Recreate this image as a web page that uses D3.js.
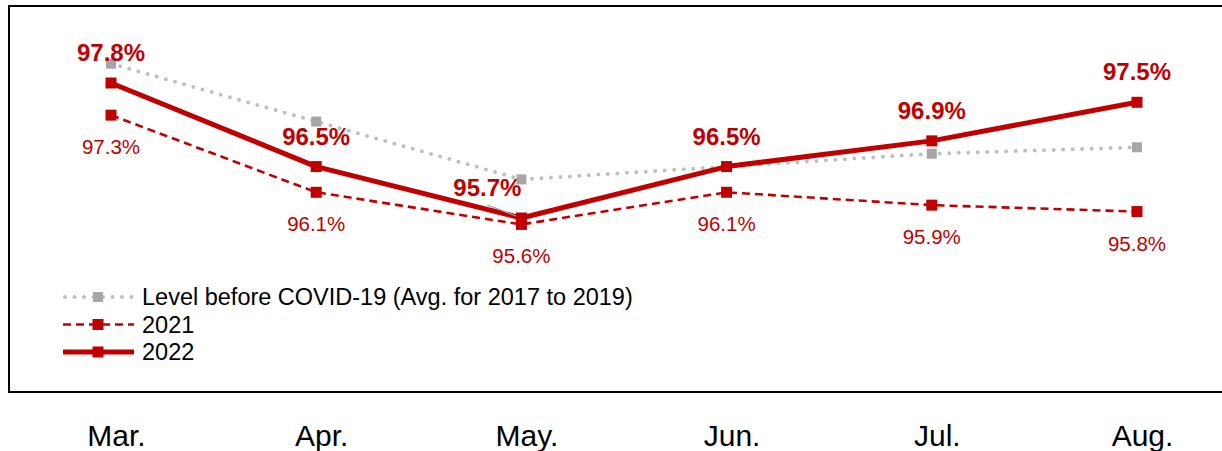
<!DOCTYPE html>
<html>
<head>
<meta charset="utf-8">
<script src="https://cdn.jsdelivr.net/npm/d3@7"></script>
<style>
  html, body { margin: 0; padding: 0; background: #fff; }
  svg { display: block; font-family: "Liberation Sans", Arial, sans-serif; }
</style>
</head>
<body>
<svg id="chart" width="1222" height="451"></svg>
<script>
// Monthly rates, March to August
const months = ["Mar.", "Apr.", "May.", "Jun.", "Jul.", "Aug."];
const preCovid = [98.1, 97.2, 96.3, 96.5, 96.7, 96.8];
const rates2021 = [97.3, 96.1, 95.6, 96.1, 95.9, 95.8];
const rates2022 = [97.8, 96.5, 95.7, 96.5, 96.9, 97.5];
const seriesNames = ["Level before COVID-19 (Avg. for 2017 to 2019)", "2021", "2022"];

const RED = "#c00000";
const GREY_LINE = "#bfbfbf";
const GREY_MARK = "#a6a6a6";

const svg = d3.select("#chart");

const x = d3.scalePoint().domain(months).range([111, 1137]);
const y = d3.scaleLinear().domain([95, 98.5]).range([263, 38]);

// frame around the plot (open on the right side)
svg.append("path")
  .attr("d", "M1240,6 H9 V392 H1240")
  .attr("fill", "none")
  .attr("stroke", "#000")
  .attr("stroke-width", 2);

const line = d3.line().x((d, i) => x(months[i])).y(d => y(d));

const series = [
  { values: preCovid, color: GREY_LINE, mark: GREY_MARK, width: 4, dash: "0 9.5", cap: "round", size: 10 },
  { values: rates2021, color: RED, mark: RED, width: 2.6, dash: "8 5", cap: "butt", size: 11 },
  { values: rates2022, color: RED, mark: RED, width: 5, dash: null, cap: "butt", size: 11 }
];

series.forEach(s => {
  svg.append("path")
    .datum(s.values)
    .attr("d", line)
    .attr("fill", "none")
    .attr("stroke", s.color)
    .attr("stroke-width", s.width)
    .attr("stroke-linecap", s.cap)
    .attr("stroke-linejoin", "round")
    .attr("stroke-dasharray", s.dash);
});

// leader from the shifted May label to its point
const shiftMay = -34;
svg.append("line")
  .attr("x1", x("May.") + shiftMay)
  .attr("y1", y(rates2022[2]) - 13)
  .attr("x2", x("May."))
  .attr("y2", y(rates2022[2]))
  .attr("stroke", "#a0a0a0")
  .attr("stroke-width", 1.2);

series.forEach(s => {
  svg.append("g").selectAll("rect")
    .data(s.values)
    .join("rect")
    .attr("x", (d, i) => x(months[i]) - s.size / 2)
    .attr("y", d => y(d) - s.size / 2)
    .attr("width", s.size)
    .attr("height", s.size)
    .attr("fill", s.mark);
});

// 2022 value labels (bold, above)
svg.append("g").selectAll("text")
  .data(rates2022)
  .join("text")
  .attr("x", (d, i) => x(months[i]) + (months[i] === "May." ? shiftMay : 0))
  .attr("y", d => y(d) - 22)
  .attr("text-anchor", "middle")
  .attr("font-size", 24)
  .attr("font-weight", "bold")
  .attr("fill", RED)
  .text(d => d.toFixed(1) + "%");

// 2021 value labels (regular, below)
svg.append("g").selectAll("text")
  .data(rates2021)
  .join("text")
  .attr("x", (d, i) => x(months[i]))
  .attr("y", d => y(d) + 39)
  .attr("text-anchor", "middle")
  .attr("font-size", 20.5)
  .attr("fill", RED)
  .text(d => d.toFixed(1) + "%");

// month axis
const xAxis = svg.append("g")
  .attr("transform", "translate(5,446)")
  .call(d3.axisBottom(x).tickSize(0).tickPadding(0));
xAxis.select(".domain").remove();
xAxis.selectAll("text")
  .attr("y", 0)
  .attr("dy", 0)
  .attr("font-size", 30)
  .attr("font-family", "'Liberation Sans', Arial, sans-serif")
  .attr("fill", "#000");

// legend
const legend = svg.append("g").attr("transform", "translate(63,297)");
const rows = legend.selectAll("g")
  .data(series)
  .join("g")
  .attr("transform", (d, i) => `translate(0,${i * 27.5})`);
rows.append("line")
  .attr("x1", d => d.cap === "round" ? 2 : 0)
  .attr("x2", 71)
  .attr("stroke", d => d.color)
  .attr("stroke-width", d => d.width)
  .attr("stroke-linecap", d => d.cap)
  .attr("stroke-dasharray", d => d.dash);
rows.append("rect")
  .attr("x", d => 35 - d.size / 2)
  .attr("y", d => -d.size / 2)
  .attr("width", d => d.size)
  .attr("height", d => d.size)
  .attr("fill", d => d.mark);
rows.append("text")
  .attr("x", 79)
  .attr("dy", "0.36em")
  .attr("font-size", 23.5)
  .attr("fill", "#000")
  .text((d, i) => seriesNames[i]);
</script>
</body>
</html>
